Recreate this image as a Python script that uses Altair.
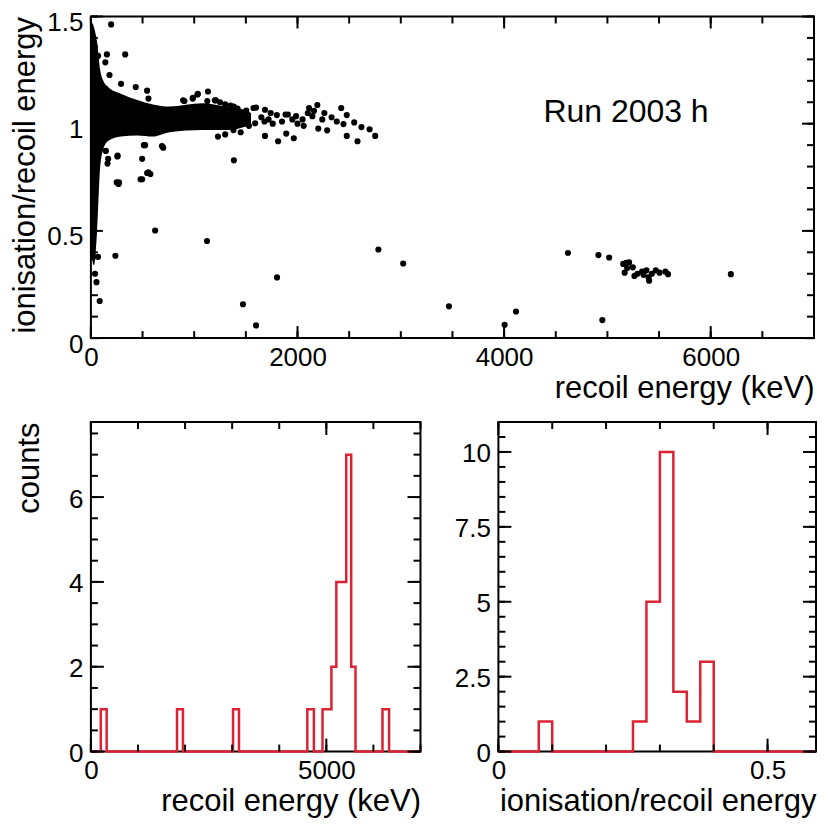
import altair as alt
import pandas as pd

FONT = "Liberation Sans"
RED = "#dd2233"

# ---------------- data ----------------
# dense core of the scatter: envelope of the black band (keV, lower, upper)
band_e = [0, 30, 60, 90, 120, 170, 290, 450, 600, 760, 1080, 1300, 1450, 1550]
band_lo = [0.40, 0.34, 0.50, 0.80, 0.88, 0.92, 0.94, 0.945, 0.94, 0.96, 0.97, 0.97, 0.98, 1.00]
band_hi = [1.48, 1.45, 1.38, 1.25, 1.20, 1.17, 1.14, 1.11, 1.09, 1.08, 1.095, 1.08, 1.07, 1.05]

# individual events (recoil energy keV, ionisation/recoil ratio)
pts_e = [196, 332, 155, 180, 292, 434, 544, 557, 905, 985, 1032, 1127, 893, 988, 1035, 1133, 1209, 1200, 1352, 1384,
         38, 140, 69,
         525, 256, 496, 557, 496, 161, 145, 700, 272, 259, 250, 268, 481, 544, 576, 513, 167, 688, 1384,
         622, 1124, 237, 85, 54, 25, 69, 40, 2783, 3023, 1802, 1472, 1599, 3466, 4005, 4115, 4618, 4951,
         1504, 1599, 1685, 1590, 1685, 1812, 1891, 1964, 1884, 1907, 1986, 2049, 2112, 2192, 2144, 2240, 2287, 2201,
         2423, 2477, 2445, 2477, 2549, 2619, 2698, 2752, 2581, 1574, 1650, 1720, 1760, 1800, 1850, 1950, 2000, 1740,
         1680, 2060, 2100, 2160, 2260, 2330, 2380,
         1250, 1300, 1420, 1450, 1300, 1230, 1480, 1530, 1380,
         4913, 5017, 5153, 5210, 5191, 5167, 5262, 5335, 5378, 5398, 5404, 5468, 5505, 5562, 5587, 5246, 5183, 5290,
         5430, 5350, 6195]
pts_r = [1.463, 1.323, 1.323, 1.227, 1.186, 1.171, 1.154, 1.117, 1.106, 1.117, 1.136, 1.106, 1.109, 1.121, 1.139, 1.150, 1.109, 1.109, 1.084, 1.080,
         1.36, 1.286, 1.316,
         0.90, 0.847, 0.836, 0.773, 0.741, 0.814, 0.873, 0.888, 0.726, 0.851, 0.726, 0.719, 0.741, 0.770, 0.765, 0.90, 0.836, 0.896, 0.829,
         0.502, 0.453, 0.384, 0.173, 0.261, 0.379, 0.379, 0.30, 0.413, 0.348, 0.283, 0.158, 0.059, 0.148, 0.062, 0.124, 0.397, 0.084,
         1.061, 1.075, 1.065, 1.002, 0.943, 0.918, 0.954, 0.932, 1.043, 1.043, 1.035, 1.020, 1.073, 1.087, 1.035, 1.020, 0.969, 0.977,
         1.073, 1.040, 0.998, 0.943, 1.006, 0.984, 0.974, 0.943, 0.918, 1.073, 1.03, 1.02, 1.00, 1.04, 1.01, 1.02, 1.00, 1.05,
         1.01, 0.99, 1.05, 1.06, 1.05, 1.03, 1.01,
         1.10, 1.09, 1.07, 0.96, 0.95, 0.94, 1.00, 0.99, 0.97,
         0.387, 0.376, 0.346, 0.353, 0.327, 0.305, 0.290, 0.310, 0.316, 0.283, 0.268, 0.316, 0.305, 0.310, 0.298, 0.33, 0.351, 0.30,
         0.30, 0.295, 0.298]

# histogram of recoil energy (bin edges keV, counts)
hE_edges = [0, 210, 335, 1829, 1955, 3019, 3145, 4596, 4736, 4919, 5108, 5213, 5423, 5528, 5620, 6193, 6333, 7000]
hE_counts = [0, 1, 0, 1, 0, 1, 0, 1, 0, 1, 2, 4, 7, 2, 0, 1, 0]

# histogram of ionisation/recoil ratio
hR_edges = [0, 0.075, 0.1, 0.25, 0.275, 0.3, 0.325, 0.35, 0.375, 0.4, 0.59]
hR_counts = [0, 1, 0, 1, 5, 10, 2, 1, 3, 0]

annotation = "Run 2003 h"
annot_e = [5180]
annot_r = [1.056]

# tick values
top_x_major = [0, 2000, 4000, 6000]
top_x_minor = list(range(0, 7001, 500))
top_y_major = [0, 0.5, 1.0, 1.5]
top_y_minor = [round(i * 0.1, 1) for i in range(16)]
bl_x_major = [0, 5000]
bl_x_minor = list(range(0, 7001, 1000))
bl_y_major = [0, 2, 4, 6]
bl_y_minor = [i * 0.5 for i in range(16)]
br_x_major = [0, 0.5]
br_x_minor = [round(i * 0.1, 1) for i in range(6)]
br_y_major = [0, 2.5, 5, 7.5, 10]
br_y_minor = [i * 0.5 for i in range(23)]

# layout (pixels)
TOP_W, TOP_H = 724, 322
BL_W, BL_H = 330, 330
BR_W, BR_H = 318, 330


# ---------------- helpers ----------------
def scales(xdom, ydom):
    return (alt.Scale(domain=xdom, nice=False, zero=False),
            alt.Scale(domain=ydom, nice=False, zero=False))


def label_layer(sx, sy, xdom, ydom, xmaj, ymaj, xtitle, ytitle, ytitle_anchor="end",
                ylab_off=0, ytitle_pad=6):
    df = pd.DataFrame({"x": [xdom[0]], "y": [ydom[0]]})
    xa = alt.Axis(orient="bottom", values=xmaj, ticks=False, tickSize=0, domain=False, grid=False,
                  labelFont=FONT, labelFontSize=26, labelColor="black", labelPadding=6,
                  labelFlush=False, labelOverlap=False, labelExpr="'' + datum.value",
                  title=xtitle, titleFont=FONT, titleFontSize=31, titleFontWeight="normal",
                  titleColor="black", titleAnchor="end", titlePadding=3)
    ya = alt.Axis(orient="left", values=ymaj, ticks=False, tickSize=0, domain=False, grid=False,
                  labelFont=FONT, labelFontSize=26, labelColor="black", labelPadding=8,
                  labelFlush=False, labelOverlap=False, labelExpr="'' + datum.value",
                  labelOffset=ylab_off,
                  title=ytitle, titleFont=FONT, titleFontSize=31, titleFontWeight="normal",
                  titleColor="black", titleAnchor=ytitle_anchor, titlePadding=ytitle_pad)
    return alt.Chart(df).mark_point(opacity=0).encode(
        x=alt.X("x:Q", scale=sx, axis=xa),
        y=alt.Y("y:Q", scale=sy, axis=ya))


def tick_layers(sx, sy, xmaj, xmin, ymaj, ymin, W, H, Lmaj, Lmin):
    out = []
    for vals, L in ((xmaj, Lmaj), (xmin, Lmin)):
        base = alt.Chart(pd.DataFrame({"v": vals})).mark_rule(color="black", strokeWidth=2)
        xe = alt.X("v:Q", scale=sx, axis=None)
        out.append(base.encode(x=xe, y=alt.value(H), y2=alt.value(H - L)))
        out.append(base.encode(x=xe, y=alt.value(0), y2=alt.value(L)))
    for vals, L in ((ymaj, Lmaj), (ymin, Lmin)):
        base = alt.Chart(pd.DataFrame({"v": vals})).mark_rule(color="black", strokeWidth=2)
        ye = alt.Y("v:Q", scale=sy, axis=None)
        out.append(base.encode(y=ye, x=alt.value(0), x2=alt.value(L)))
        out.append(base.encode(y=ye, x=alt.value(W - L), x2=alt.value(W)))
    return out


def step_df(edges, counts):
    xs = list(edges[:-1]) + [edges[-1]]
    ys = list(counts) + [counts[-1]]
    return pd.DataFrame({"x": xs, "y": ys, "o": list(range(len(xs)))})


# ---------------- top panel ----------------
XD_T, YD_T = [0, 7000], [0, 1.5]
sx, sy = scales(XD_T, YD_T)
band_df = pd.DataFrame({"x": band_e, "lo": band_lo, "hi": band_hi})
pts_df = pd.DataFrame({"x": pts_e, "y": pts_r})
ann_df = pd.DataFrame({"x": annot_e, "y": annot_r, "t": [annotation]})

band = alt.Chart(band_df).mark_area(color="black", interpolate="monotone").encode(
    x=alt.X("x:Q", scale=sx, axis=None),
    y=alt.Y("lo:Q", scale=sy, axis=None),
    y2="hi:Q")
points = alt.Chart(pts_df).mark_circle(size=38, color="black", opacity=1).encode(
    x=alt.X("x:Q", scale=sx, axis=None),
    y=alt.Y("y:Q", scale=sy, axis=None))
text = alt.Chart(ann_df).mark_text(font=FONT, fontSize=32, color="black", align="center",
                                    baseline="middle").encode(
    x=alt.X("x:Q", scale=sx, axis=None),
    y=alt.Y("y:Q", scale=sy, axis=None),
    text="t:N")

top = alt.layer(
    band, points, text,
    *tick_layers(sx, sy, top_x_major, top_x_minor, top_y_major, top_y_minor, TOP_W, TOP_H, 12, 7),
    label_layer(sx, sy, XD_T, YD_T, top_x_major, top_y_major,
                "recoil energy (keV)", "ionisation/recoil energy", "end", ylab_off=6, ytitle_pad=5),
).resolve_axis(x="independent", y="independent").properties(width=TOP_W, height=TOP_H)

# ---------------- bottom-left: energy histogram ----------------
XD_E, YD_E = [0, 7000], [0, 7.77]
sxE, syE = scales(XD_E, YD_E)
histE = alt.Chart(step_df(hE_edges, hE_counts)).mark_line(
    color=RED, strokeWidth=2.5, interpolate="step-after").encode(
    x=alt.X("x:Q", scale=sxE, axis=None),
    y=alt.Y("y:Q", scale=syE, axis=None),
    order="o:Q")
bl = alt.layer(
    histE,
    *tick_layers(sxE, syE, bl_x_major, bl_x_minor, bl_y_major, bl_y_minor, BL_W, BL_H, 13, 7),
    label_layer(sxE, syE, XD_E, YD_E, bl_x_major, bl_y_major,
                "recoil energy (keV)", "counts", "end", ylab_off=2, ytitle_pad=23),
).resolve_axis(x="independent", y="independent").properties(width=BL_W, height=BL_H)

# ---------------- bottom-right: ratio histogram ----------------
XD_R, YD_R = [0, 0.59], [0, 11]
sxR, syR = scales(XD_R, YD_R)
histR = alt.Chart(step_df(hR_edges, hR_counts)).mark_line(
    color=RED, strokeWidth=2.5, interpolate="step-after").encode(
    x=alt.X("x:Q", scale=sxR, axis=None),
    y=alt.Y("y:Q", scale=syR, axis=None),
    order="o:Q")
br = alt.layer(
    histR,
    *tick_layers(sxR, syR, br_x_major, br_x_minor, br_y_major, br_y_minor, BR_W, BR_H, 13, 7),
    label_layer(sxR, syR, XD_R, YD_R, br_x_major, br_y_major,
                "ionisation/recoil energy", "", "end", ylab_off=2),
).resolve_axis(x="independent", y="independent").properties(width=BR_W, height=BR_H)

bottom = alt.hconcat(bl, br, spacing=26)
chart = alt.vconcat(top, bottom, spacing=16).properties(
    padding={"left": 0, "top": 0, "right": 0, "bottom": 0},
    background="white",
).configure_view(stroke="black", strokeWidth=2)

chart.save("out.html", embed_options={"renderer": "svg", "actions": False})
